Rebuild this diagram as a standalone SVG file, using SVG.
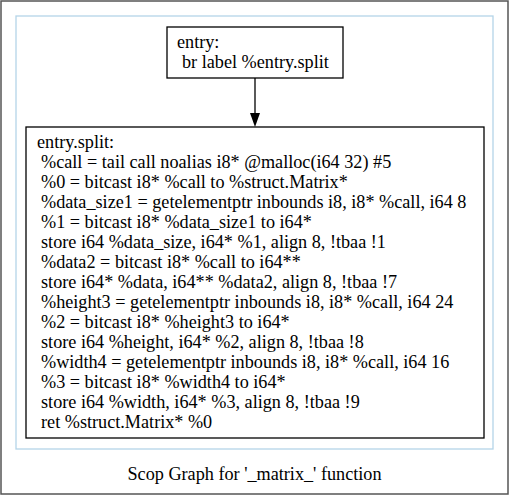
<svg xmlns="http://www.w3.org/2000/svg" width="509" height="496" viewBox="0 0 509 496">
<style>
text{font-family:"Liberation Serif","Times New Roman",serif;font-size:18.2px;fill:#000}
.node{fill:#fff;stroke:#000;stroke-width:1.3}
</style>
<rect x="0" y="0" width="509" height="496" fill="#fff"/>
<rect x="1" y="1" width="507" height="493" fill="none" stroke="#555" stroke-width="1.5"/>
<rect x="16" y="16" width="477" height="433" fill="none" stroke="#b4d4e8" stroke-width="1.3"/>
<g id="connectors">
<line x1="255" y1="78" x2="255" y2="113" stroke="#000" stroke-width="1.3"/>
<path d="M250,113 L260,113 L255,127 Z" fill="#000"/>
</g>
<g id="entry">
<rect class="node" x="167" y="27" width="176" height="51"/>
<text x="177" y="48">entry:</text>
<text x="182" y="67.5">br label %entry.split</text>
</g>
<g id="entry.split">
<rect class="node" x="26" y="127" width="458" height="311"/>
<text x="37" y="148">entry.split:</text>
<text x="41" y="168">%call = tail call noalias i8* @malloc(i64 32) #5</text>
<text x="41" y="188">%0 = bitcast i8* %call to %struct.Matrix*</text>
<text x="41" y="208">%data_size1 = getelementptr inbounds i8, i8* %call, i64 8</text>
<text x="41" y="228">%1 = bitcast i8* %data_size1 to i64*</text>
<text x="41" y="248">store i64 %data_size, i64* %1, align 8, !tbaa !1</text>
<text x="41" y="268">%data2 = bitcast i8* %call to i64**</text>
<text x="41" y="288">store i64* %data, i64** %data2, align 8, !tbaa !7</text>
<text x="41" y="308">%height3 = getelementptr inbounds i8, i8* %call, i64 24</text>
<text x="41" y="328">%2 = bitcast i8* %height3 to i64*</text>
<text x="41" y="348">store i64 %height, i64* %2, align 8, !tbaa !8</text>
<text x="41" y="368">%width4 = getelementptr inbounds i8, i8* %call, i64 16</text>
<text x="41" y="388">%3 = bitcast i8* %width4 to i64*</text>
<text x="41" y="408">store i64 %width, i64* %3, align 8, !tbaa !9</text>
<text x="41" y="428">ret %struct.Matrix* %0</text>
</g>
<text x="254.5" y="480" text-anchor="middle">Scop Graph for '_matrix_' function</text>
</svg>
